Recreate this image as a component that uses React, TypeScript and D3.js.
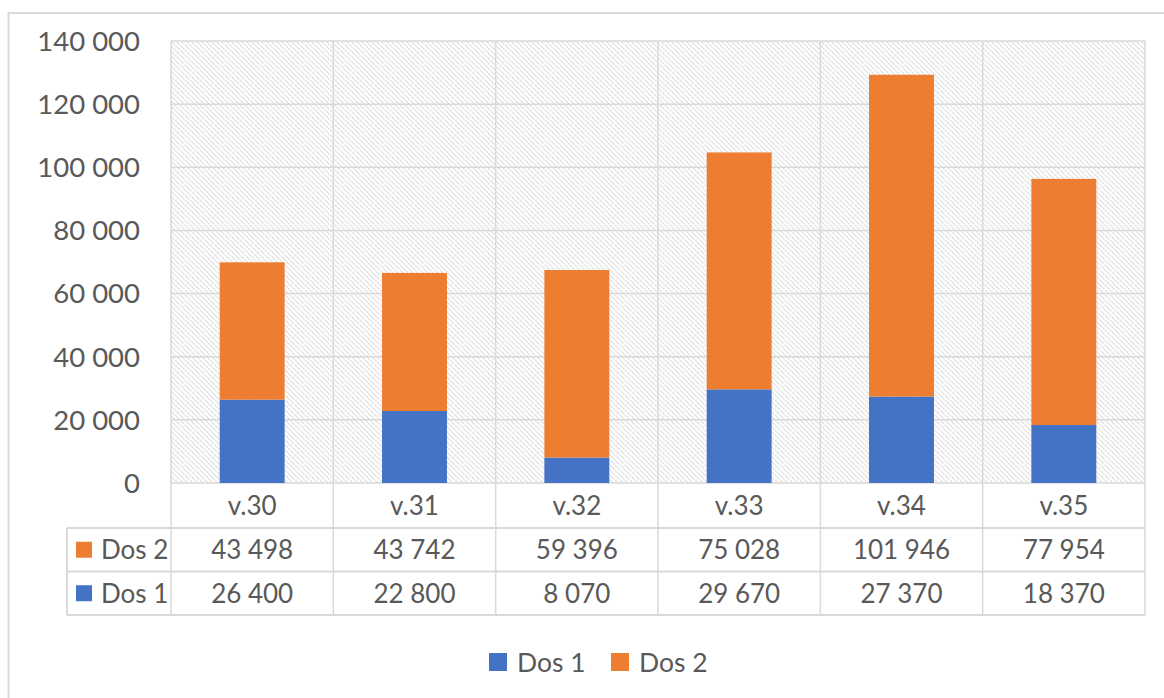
import React from 'react';
import * as d3 from 'd3';

// weeks and doses
const weeks = ['v.30', 'v.31', 'v.32', 'v.33', 'v.34', 'v.35'];
const dos1 = [26400, 22800, 8070, 29670, 27370, 18370];
const dos2 = [43498, 43742, 59396, 75028, 101946, 77954];
const yTicks = [0, 20000, 40000, 60000, 80000, 100000, 120000, 140000];

const seriesNames = ['Dos 1', 'Dos 2'];
const colors = ['#4472C4', '#ED7D31'];

const W = 1164;
const H = 698;
const FONT = 'Lato, "Open Sans", sans-serif';
const TEXT = '#595959';
const GRID = '#d9d9d9';

const fmt = d3.formatLocale({ decimal: ',', thousands: '\u00a0', grouping: [3], currency: ['', ''] }).format(',d');

export default function App() {
  const left = 171, right = 1145, top = 41, bottom = 483;
  const rowH = 43.5;
  const tableLeft = 67;

  const x = d3.scaleBand().domain(weeks).range([left, right]).paddingInner(0).paddingOuter(0);
  const y = d3.scaleLinear().domain([0, 140000]).range([bottom, top]);
  const barW = x.bandwidth() * 0.4;

  const rows = weeks.map((w, i) => ({ week: w, 'Dos 1': dos1[i], 'Dos 2': dos2[i] }));
  const stack = d3.stack().keys(seriesNames);
  const series = stack(rows as any);

  const catRowBottom = bottom + 45;
  const row2Bottom = catRowBottom + rowH;
  const row1Bottom = row2Bottom + rowH;

  // table rows: Dos 2 on top, Dos 1 below
  const tableRows = [
    { name: 'Dos 2', values: dos2, color: colors[1], y0: catRowBottom },
    { name: 'Dos 1', values: dos1, color: colors[0], y0: row2Bottom },
  ];

  return (
    <svg width={W} height={H} style={{ position: 'absolute', left: 0, top: 0 }}>
      <defs>
        <pattern id="hatch" patternUnits="userSpaceOnUse" width="5" height="5">
          <path d="M-1,-1 L6,6 M-1,4 L1,6 M4,-1 L6,1" stroke="#d6d6d6" strokeWidth="1.3" strokeDasharray="1.4 0.6" />
        </pattern>
      </defs>
      <rect x={0} y={0} width={W} height={H} fill="#fff" />
      <rect x={8.5} y={13} width={W + 10} height={H + 10} fill="none" stroke={GRID} strokeWidth={2} />

      {/* plot area */}
      <rect x={left} y={top} width={right - left} height={bottom - top} fill="url(#hatch)" />
      {yTicks.map((t) => (
        <g key={'g' + t}>
          <line x1={left} x2={right} y1={y(t)} y2={y(t)} stroke={GRID} strokeWidth={1.5} />
          <text x={140} y={y(t)} dy="0.36em" textAnchor="end" fontFamily={FONT} fontSize={27.5} fill={TEXT}>
            {fmt(t)}
          </text>
        </g>
      ))}
      {weeks.map((w) => (
        <line key={'v' + w} x1={x(w)!} x2={x(w)!} y1={top} y2={row1Bottom} stroke={GRID} strokeWidth={1.5} />
      ))}
      <line x1={right} x2={right} y1={top} y2={row1Bottom} stroke={GRID} strokeWidth={1.5} />

      {/* bars */}
      {series.map((s, si) =>
        s.map((d, i) => (
          <rect
            key={si + '-' + i}
            x={x(weeks[i])! + (x.bandwidth() - barW) / 2}
            y={y(d[1])}
            width={barW}
            height={y(d[0]) - y(d[1])}
            fill={colors[si]}
          />
        ))
      )}

      {/* data table */}
      {weeks.map((w) => (
        <text key={'c' + w} x={x(w)! + x.bandwidth() / 2} y={(bottom + catRowBottom) / 2} dy="0.36em"
          textAnchor="middle" fontFamily={FONT} fontSize={26} fill={TEXT}>{w}</text>
      ))}
      <line x1={tableLeft} x2={right} y1={catRowBottom} y2={catRowBottom} stroke={GRID} strokeWidth={2} />
      <line x1={tableLeft} x2={right} y1={row2Bottom} y2={row2Bottom} stroke={GRID} strokeWidth={2} />
      <line x1={tableLeft} x2={right} y1={row1Bottom} y2={row1Bottom} stroke={GRID} strokeWidth={2} />
      <line x1={tableLeft} x2={tableLeft} y1={catRowBottom} y2={row1Bottom} stroke={GRID} strokeWidth={2} />
      {tableRows.map((r) => (
        <g key={r.name}>
          <rect x={76} y={r.y0 + rowH / 2 - 8} width={16} height={16} fill={r.color} />
          <text x={101} y={r.y0 + rowH / 2} dy="0.36em" fontFamily={FONT} fontSize={26} fill={TEXT}>{r.name}</text>
          {r.values.map((v, i) => (
            <text key={i} x={x(weeks[i])! + x.bandwidth() / 2} y={r.y0 + rowH / 2} dy="0.36em"
              textAnchor="middle" fontFamily={FONT} fontSize={26} fill={TEXT}>{fmt(v)}</text>
          ))}
        </g>
      ))}

      {/* legend */}
      {seriesNames.map((n, i) => (
        <g key={'l' + n} transform={`translate(${489 + i * 122},0)`}>
          <rect x={0} y={653} width={18} height={18} fill={colors[i]} />
          <text x={28} y={662} dy="0.36em" fontFamily={FONT} fontSize={26.5} fill={TEXT}>{n}</text>
        </g>
      ))}
    </svg>
  );
}
